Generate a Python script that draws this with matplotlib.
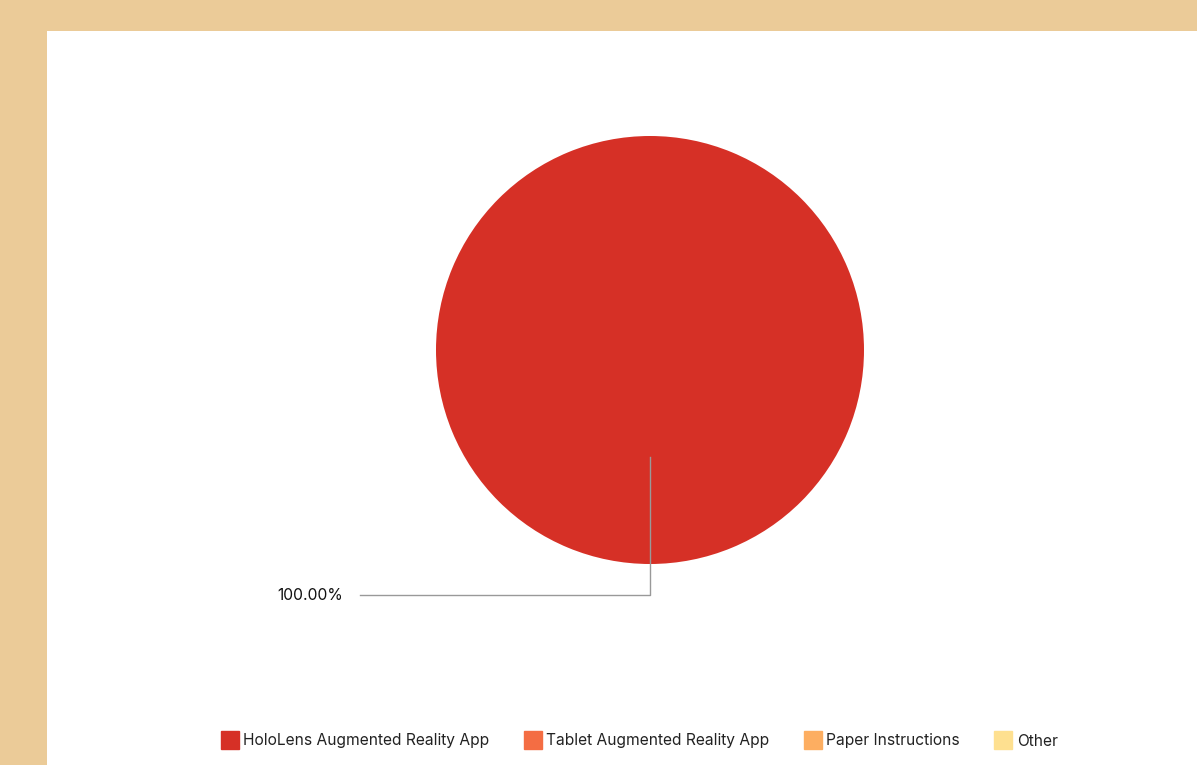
import numpy as np
import matplotlib
matplotlib.use('Agg')
import matplotlib.pyplot as plt
from matplotlib.patches import Rectangle
from matplotlib.lines import Line2D

plt.rcParams['font.family'] = ['Inter', 'DejaVu Sans']

categories = ['HoloLens Augmented Reality App', 'Tablet Augmented Reality App',
              'Paper Instructions', 'Other']
values = [100, 0, 0, 0]
colors = ['#D63026', '#F46D43', '#FDAE61', '#FEE090']

W, H = 1197, 765
fig = plt.figure(figsize=(W / 100, H / 100), dpi=100, facecolor='#EBCB98')
ax = fig.add_axes([0, 0, 1, 1])
ax.add_patch(Rectangle((47, 0), W - 47, H - 31, facecolor='white', edgecolor='none', zorder=0))

cx, cy, r = 650, H - 350, 214
wedges, _ = ax.pie(values, colors=colors, startangle=90, counterclock=False,
                   center=(cx, cy), radius=r, wedgeprops=dict(linewidth=0))

total = sum(values)
for w, v in zip(wedges, values):
    if v == 0:
        continue
    mid = np.deg2rad((w.theta1 + w.theta2) / 2)
    x0, y0 = cx + 0.5 * r * np.cos(mid), cy + 0.5 * r * np.sin(mid)
    y1 = cy - 245
    ax.plot([x0, x0, 360], [y0, y1, y1], color='#999999', lw=1, zorder=3)
    ax.text(343, y1 - 1, f'{v / total * 100:.2f}%', ha='right', va='center',
            fontsize=11.3, color='#111111')

ax.set_xlim(0, W)
ax.set_ylim(0, H)
ax.set_aspect('auto')
ax.axis('off')

handles = [Line2D([], [], marker='s', linestyle='none', markersize=13,
                  markerfacecolor=c, markeredgecolor=c) for c in colors]
fig.legend(handles, categories, loc='center', bbox_to_anchor=(640 / W, 1 - 741 / H),
           ncol=4, frameon=False, fontsize=11.2, handlelength=1.0, handletextpad=0.35,
           columnspacing=2.3, labelcolor='#222222')

fig.savefig('out.png', dpi=100, facecolor=fig.get_facecolor())
